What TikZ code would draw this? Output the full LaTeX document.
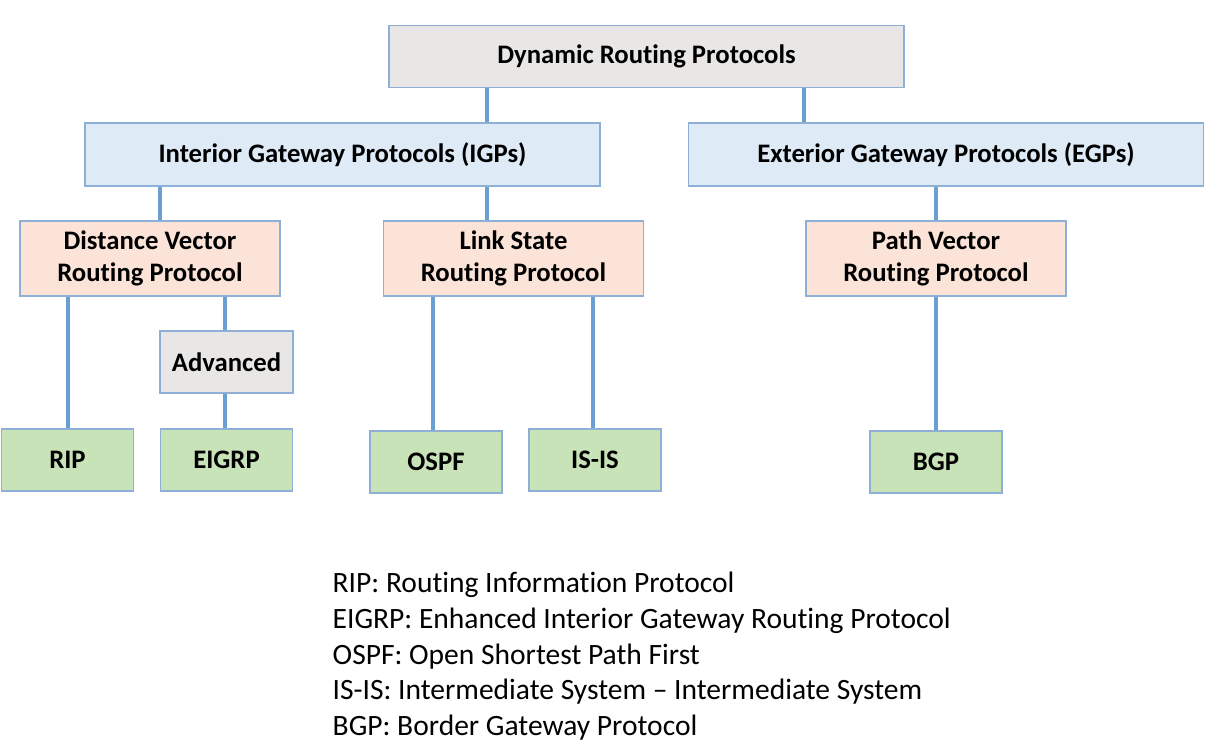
\documentclass[tikz,border=0pt]{standalone}
\usepackage{fontspec}
\setmainfont[Ligatures=NoCommon]{Carlito}
\usetikzlibrary{backgrounds,calc}
\pgfdeclarelayer{edgelayer}
\pgfdeclarelayer{nodelayer}
\pgfsetlayers{edgelayer,nodelayer,main}
\definecolor{boxline}{HTML}{8EAFD6}
\definecolor{wire}{HTML}{6A9FD2}
\definecolor{grayfill}{HTML}{E8E7E6}
\definecolor{bluefill}{HTML}{DEEBF7}
\definecolor{peachfill}{HTML}{FBE3D8}
\definecolor{greenfill}{HTML}{C8E3B8}
\tikzset{font=\fontsize{8.4}{10}\selectfont}
\tikzstyle{box}=[draw=boxline,line width=0.5pt,inner sep=0pt,align=center,font=\fontsize{7.6}{9}\selectfont\bfseries]
\tikzstyle{top}=[box,fill=grayfill,minimum width=5.15cm,minimum height=0.62cm]
\tikzstyle{family}=[box,fill=bluefill,minimum width=5.15cm,minimum height=0.63cm]
\tikzstyle{kind}=[box,fill=peachfill,minimum width=2.6cm,minimum height=0.75cm]
\tikzstyle{leaf}=[box,fill=greenfill,minimum width=1.32cm,minimum height=0.62cm]
\tikzstyle{adv}=[box,fill=grayfill,minimum width=1.33cm,minimum height=0.62cm]
\tikzstyle{wire}=[draw=wire,line width=0.9pt]
\tikzstyle{legend}=[anchor=base west,inner sep=0pt]

\begin{document}
\begin{tikzpicture}
	\useasboundingbox (0,0) rectangle (12.15,-7.51);
	\begin{pgfonlayer}{nodelayer}
		\node [style=top] (dyn) at (6.465, -0.565) {Dynamic Routing Protocols};
		\node [style=family] (igp) at (3.425, -1.545) {Interior Gateway Protocols (IGPs)};
		\node [style=family] (egp) at (9.46, -1.545) {Exterior Gateway Protocols (EGPs)};
		\node [style=kind] (dv) at (1.50, -2.585) {Distance Vector\\Routing Protocol};
		\node [style=kind] (ls) at (5.135, -2.585) {Link State\\Routing Protocol};
		\node [style=kind] (pv) at (9.36, -2.585) {Path Vector\\Routing Protocol};
		\node [style=adv] (adv) at (2.265, -3.62) {Advanced};
		\node [style=leaf] (rip) at (0.675, -4.60) {RIP};
		\node [style=leaf] (eigrp) at (2.265, -4.60) {EIGRP};
		\node [style=leaf] (ospf) at (4.36, -4.62) {OSPF};
		\node [style=leaf] (isis) at (5.95, -4.60) {IS-IS};
		\node [style=leaf] (bgp) at (9.36, -4.62) {BGP};
	\end{pgfonlayer}
	\begin{pgfonlayer}{edgelayer}
		\foreach \a/\b/\x in {dyn/igp/4.87, dyn/egp/8.04, igp/dv/1.60, igp/ls/4.87,
			egp/pv/9.36, dv/rip/0.68, dv/adv/2.25, adv/eigrp/2.25,
			ls/ospf/4.33, ls/isis/5.93, pv/bgp/9.36}
			\draw[style=wire] (\a.south -| \x,0) to (\b.north -| \x,0);
	\end{pgfonlayer}
	% legend
	\node [style=legend] (l1) at (3.32, -5.93) {RIP: Routing Information Protocol};
	\node [style=legend] (l2) at (3.32, -6.285) {EIGRP: Enhanced Interior Gateway Routing Protocol};
	\node [style=legend] (l3) at (3.32, -6.64) {OSPF: Open Shortest Path First};
	\node [style=legend] (l4) at (3.32, -6.995) {IS-IS: Intermediate System -- Intermediate System};
	\node [style=legend] (l5) at (3.32, -7.35) {BGP: Border Gateway Protocol};
\end{tikzpicture}
\end{document}
